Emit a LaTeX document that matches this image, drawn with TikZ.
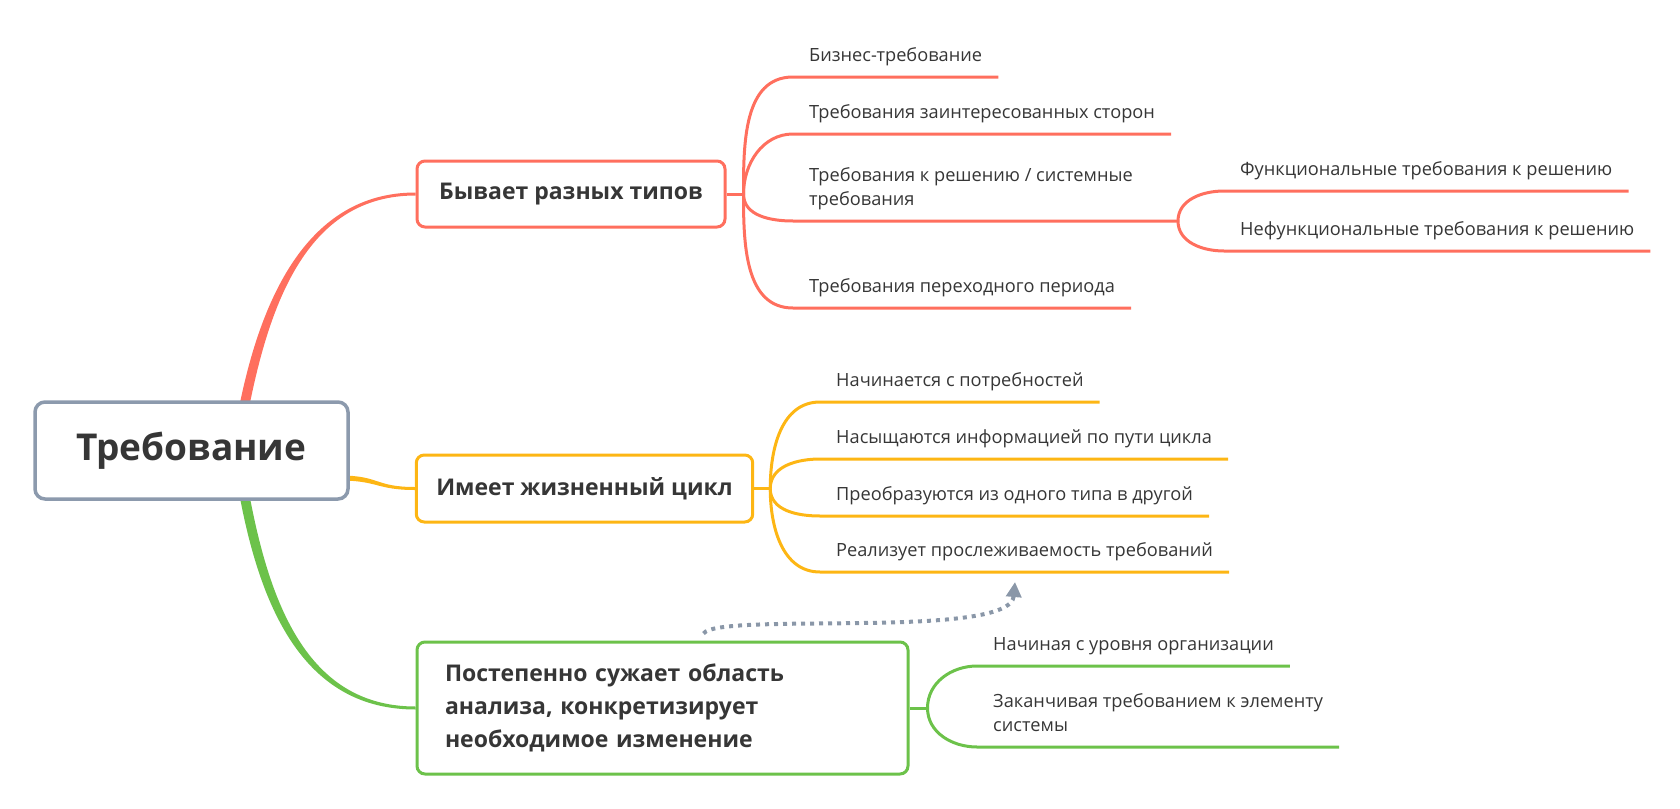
\documentclass[tikz,border=0pt]{standalone}
\usepackage{fontspec}
\setmainfont{Open Sans}
\usetikzlibrary{positioning,calc,arrows.meta,backgrounds}
\definecolor{rootgray}{HTML}{8C9AAD}
\definecolor{redbr}{HTML}{FF6F5E}
\definecolor{yelbr}{HTML}{FDB614}
\definecolor{grnbr}{HTML}{6CC24A}
\definecolor{txt}{HTML}{363636}
\definecolor{relgray}{HTML}{8A97A8}

\begin{document}
\begin{tikzpicture}[x=1pt,y=-1pt]
	% Define styles
	\tikzset{
		rootbox/.style={draw=rootgray, line width=3.5pt, rounded corners=10pt, fill=white, text=txt,
			minimum width=313pt, minimum height=97pt, font=\fontsize{37}{44}\selectfont\bfseries},
		topic/.style={line width=3pt, rounded corners=8pt, fill=white, text=txt, inner xsep=20pt,
			font=\fontsize{23}{33}\selectfont\bfseries},
		leaf/.style={anchor=south west, inner xsep=16pt, inner ysep=0pt, text depth=15pt, text=txt,
			align=left, font=\fontsize{18.2}{24}\selectfont},
		twig/.style={line width=3pt},
		relarrow/.style={relgray, line width=4pt, dash pattern=on 4pt off 5pt,
			-{Triangle[length=15pt,width=15pt]}}
	}
	\useasboundingbox (0,0) rectangle (1680,808);
	
	% Root and topics
	\node[rootbox] (root) at (191.5,450.5) {Требование};
	\node[topic, draw=redbr, minimum width=308pt, minimum height=66pt] (types) at (571,194) {Бывает разных типов};
	\node[topic, draw=yelbr, minimum width=335pt, minimum height=67pt] (life) at (584.5,488.5) {Имеет жизненный цикл};
	\node[topic, draw=grnbr, minimum width=491pt, minimum height=132pt, inner xsep=28pt, text width=435pt, align=left] (narrow) at (662.5,708)
		{Постепенно сужает область\\анализа, конкретизирует\\необходимое изменение};
	
	% Main branches, tapered (the root box covers their start)
	\begin{scope}[on background layer]
		\fill[redbr] ($(root.north)+(47,10)$) .. controls +(22,-112) and +(-108,0) .. ([yshift=1.5pt]types.west)
			-- ([yshift=-1.5pt]types.west) .. controls +(-106,0) and +(22,-112) .. ($(root.north)+(57,10)$) -- cycle;
		\fill[grnbr] ($(root.south)+(47,-11)$) .. controls +(22,122) and +(-110,0) .. ([yshift=-1.5pt]narrow.west)
			-- ([yshift=1.5pt]narrow.west) .. controls +(-104,0) and +(22,122) .. ($(root.south)+(57,-11)$) -- cycle;
		\fill[yelbr] ($(root.east)+(-10,25)$) .. controls +(40,0) and +(-40,0) .. ([yshift=1.5pt]life.west)
			-- ([yshift=-1.5pt]life.west) .. controls +(-38,0) and +(38,0) .. ($(root.east)+(-10,30)$) -- cycle;
	\end{scope}
	
	% Red: types of requirements
	\coordinate (rfork) at ($(types.east)+(17,0)$);
	\node[leaf] (biz) at (793,77) {Бизнес-требование};
	\node[leaf] (stake) at (793,134) {Требования заинтересованных сторон};
	\node[leaf] (sol) at (793,221) {Требования к решению / системные\\требования};
	\node[leaf] (trans) at (793,308) {Требования переходного периода};
	\coordinate (sfork) at ($(sol.south west)+(385,0)$);
	\node[leaf] (func) at (1224,191) {Функциональные требования к решению};
	\node[leaf] (nonfunc) at (1224,251) {Нефункциональные требования к решению};
	\begin{scope}[twig, redbr]
		\draw (types.east) -- (rfork);
		\foreach \nm/\dir in {biz/90, stake/90, trans/-90}
			\draw (rfork) to[out=\dir, in=180] (\nm.south west) -- (\nm.south east);
		\draw (rfork) to[out=-90, in=180] (sol.south west) -- (sfork);
		\draw (sfork) to[out=90, in=180] (func.south west) -- (func.south east);
		\draw (sfork) to[out=-90, in=180] (nonfunc.south west) -- (nonfunc.south east);
	\end{scope}
	
	% Yellow: life cycle
	\coordinate (yfork) at ($(life.east)+(16,0)$);
	\foreach \nm/\y/\txt in {needs/402/Начинается с потребностей,
			info/459/Насыщаются информацией по пути цикла,
			conv/516/Преобразуются из одного типа в другой,
			trace/572/Реализует прослеживаемость требований}
		\node[leaf] (\nm) at (820,\y) {\txt};
	\begin{scope}[twig, yelbr]
		\draw (life.east) -- (yfork);
		\foreach \nm/\dir in {needs/90, info/90, conv/-90, trace/-90}
			\draw (yfork) to[out=\dir, in=180] (\nm.south west) -- (\nm.south east);
	\end{scope}
	
	% Green: narrowing
	\coordinate (gfork) at ($(narrow.east)+(18,0)$);
	\node[leaf] (org) at (977,666) {Начиная с уровня организации};
	\node[leaf] (elem) at (977,747) {Заканчивая требованием к элементу\\системы};
	\begin{scope}[twig, grnbr]
		\draw (narrow.east) -- (gfork);
		\draw (gfork) to[out=90, in=180] (org.south west) -- (org.south east);
		\draw (gfork) to[out=-90, in=180] (elem.south west) -- (elem.south east);
	\end{scope}
	
	% Relation
	\coordinate (relsrc) at ($(narrow.north)+(41,-7)$);
	\coordinate (reldst) at ($(trace.south west)+(195,10)$);
	\draw[relarrow] (relsrc) .. controls +(15,-22) and +(-5,58) .. (reldst);
\end{tikzpicture}
\end{document}
